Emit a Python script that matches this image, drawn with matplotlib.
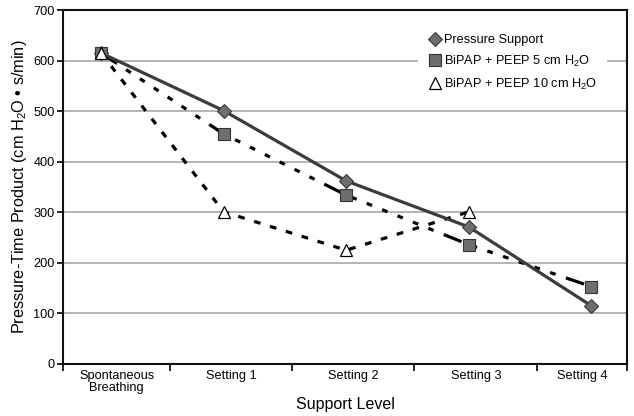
import matplotlib.pyplot as plt
import numpy as np

plt.rcParams['font.family'] = ['Liberation Sans', 'DejaVu Sans']
plt.rcParams['mathtext.fontset'] = 'custom'
plt.rcParams['mathtext.rm'] = 'Liberation Sans'
plt.rcParams['mathtext.default'] = 'regular'

categories = ['Spontaneous\nBreathing', 'Setting 1', 'Setting 2', 'Setting 3', 'Setting 4']
pressure_support = [615, 501, 362, 271, 115]
bipap_5 = [615, 455, 334, 236, 153]
bipap_10 = [615, 301, 225, 301]

x = np.arange(len(categories))

fig = plt.figure(figsize=(6.34, 4.16), dpi=100)
ax = fig.add_axes([63 / 634, 52 / 416, 564 / 634, 354 / 416])

lw = 2.3
ax.plot(x, pressure_support, color='#3c3c3c', lw=lw, zorder=3)
ax.plot(x, bipap_5, color='black', lw=lw, zorder=2,
        linestyle=(0, (6.0, 3.4, 1.8, 3.4, 1.8, 3.4, 1.8, 3.4, 1.8, 3.4, 1.8, 3.4, 1.8, 3.4)))
ax.plot(x[:len(bipap_10)], bipap_10, color='black', lw=lw, zorder=2,
        linestyle=(0, (2.1, 3.1)))

ax.plot(x, pressure_support, 'D', ms=7, mfc='#6e6e6e', mec='#3a3a3a', mew=0.8,
        ls='none', zorder=4, label='Pressure Support')
ax.plot(x, bipap_5, 's', ms=9, mfc='#6e6e6e', mec='#333333', mew=0.8,
        ls='none', zorder=4, label='BiPAP + PEEP 5 cm H$_2$O')
ax.plot(x[:len(bipap_10)], bipap_10, '^', ms=9, mfc='white', mec='black', mew=0.9,
        ls='none', zorder=5, label='BiPAP + PEEP 10 cm H$_2$O')

xmin, xmax = -0.31, 4.29
ax.set_xlim(xmin, xmax)
ax.set_ylim(0, 700)

bounds = [xmin, 0.563, 1.559, 2.555, 3.56, xmax]
ax.set_xticks(bounds)
ax.set_xticklabels([])
ax.set_xticks([(bounds[i] + bounds[i + 1]) / 2 for i in range(5)], minor=True)
ax.set_xticklabels(categories, minor=True, fontsize=9.2, linespacing=1.05)
ax.tick_params(axis='x', which='major', direction='out', length=5, width=1.2)
ax.tick_params(axis='x', which='minor', length=0, pad=4)

ax.set_yticks(np.arange(0, 701, 100))
ax.tick_params(axis='y', direction='out', length=4, width=1.2, labelsize=9.2, pad=2)

for v in range(100, 700, 100):
    ax.axhline(v, color='#a8a8a8', lw=1.2, zorder=1)

for s in ax.spines.values():
    s.set_linewidth(1.5)
    s.set_color('#111111')

ax.set_xlabel('Support Level', fontsize=11.5, labelpad=2)
ax.set_ylabel('Pressure-Time Product (cm H$_2$O \u2022 s/min)', fontsize=11.7, labelpad=3)

leg = ax.legend(loc='upper right', bbox_to_anchor=(0.975, 0.975), frameon=True,
                fontsize=9.2, handletextpad=0.15, labelspacing=0.6, borderpad=0.7,
                handlelength=1.2)
leg.get_frame().set_edgecolor('none')
leg.get_frame().set_facecolor('white')
leg.get_frame().set_alpha(1)

fig.savefig('out.png', dpi=100)
